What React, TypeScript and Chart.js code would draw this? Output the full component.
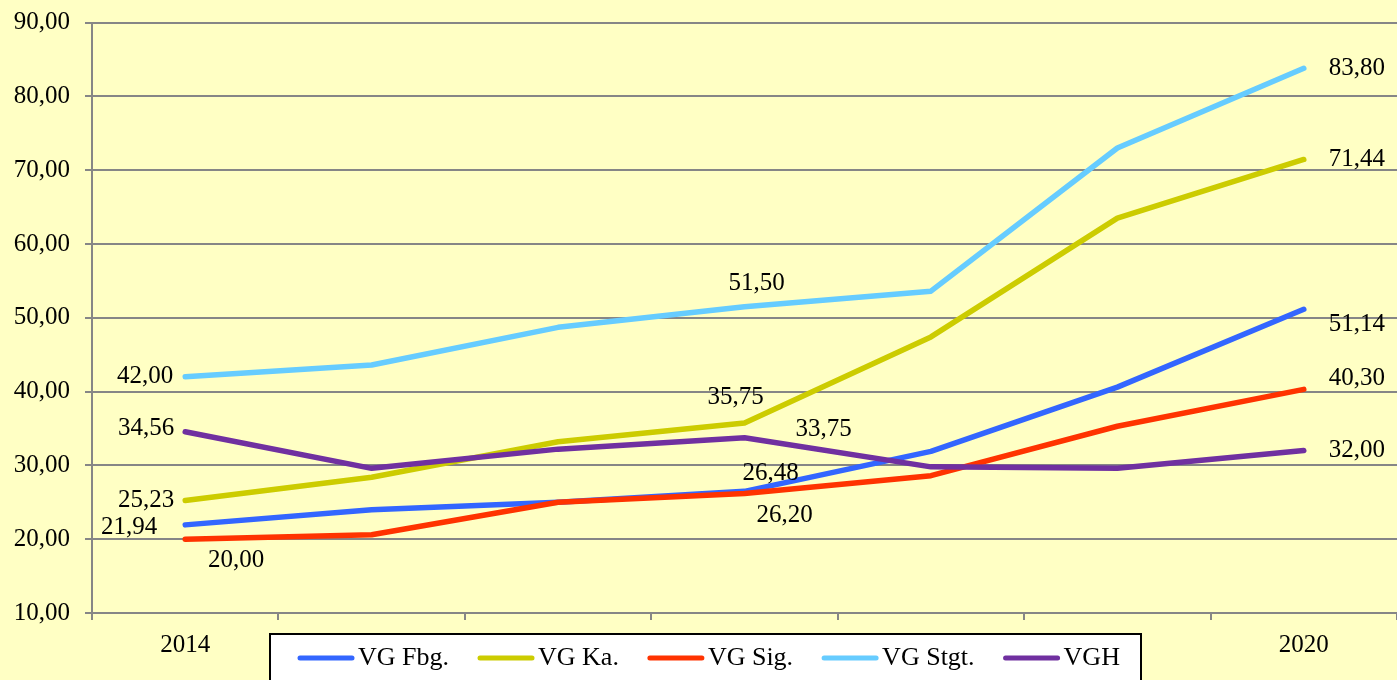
import React, { useEffect, useRef } from "react";
import { Chart, registerables } from "chart.js";

Chart.register(...registerables);

// ---- data ----
const categories = ["2014", "2015", "2016", "2017", "2018", "2019", "2020"];
const seriesNames = ["VG Fbg.", "VG Ka.", "VG Sig.", "VG Stgt.", "VGH"];
const vgFbg = [21.94, 24.0, 25.0, 26.48, 31.9, 40.6, 51.14];
const vgKa = [25.23, 28.4, 33.2, 35.75, 47.4, 63.5, 71.44];
const vgSig = [20.0, 20.6, 25.0, 26.2, 28.6, 35.3, 40.3];
const vgStgt = [42.0, 43.6, 48.7, 51.5, 53.6, 73.0, 83.8];
const vgh = [34.56, 29.6, 32.2, 33.75, 29.8, 29.6, 32.0];
const yMin = 10;
const yMax = 90;
const yStep = 10;

// indices of points that carry a value label
const labeledIndices = [0, 3, 6];

// ---- styles ----
const colors = ["#3366FF", "#CCCC00", "#FF3300", "#66CCFF", "#7030A0"];
const FONT = "'Liberation Serif', 'Times New Roman', serif";
const BG = "#FFFFC4";
const GRID = "#868686";
// label offsets (dx, dy from the point, text centre) per series, per labeled index
const labelOffsets = [
  [[-56, 3], [26, -18], [53, 15]],
  [[-39, 0], [-9, -25], [53, 0]],
  [[51, 21], [40, 22], [53, -11]],
  [[-40, 0], [12, -23], [53, 0]],
  [[-39, -3], [79, -8], [53, 0]],
];

const fmt = (v: number) => v.toFixed(2).replace(".", ",");

const bgPlugin = {
  id: "bg",
  beforeDraw(chart: any) {
    const { ctx, width, height } = chart;
    ctx.save();
    ctx.fillStyle = BG;
    ctx.fillRect(0, 0, width, height);
    ctx.restore();
  },
};

const labelPlugin = {
  id: "valueLabels",
  afterDatasetsDraw(chart: any) {
    const { ctx } = chart;
    ctx.save();
    ctx.font = `25px ${FONT}`;
    ctx.fillStyle = "#000";
    ctx.textAlign = "center";
    ctx.textBaseline = "middle";
    chart.data.datasets.forEach((ds: any, di: number) => {
      const meta = chart.getDatasetMeta(di);
      labeledIndices.forEach((idx, k) => {
        const pt = meta.data[idx];
        if (!pt) return;
        const [dx, dy] = labelOffsets[di][k];
        ctx.fillText(fmt(ds.data[idx]), pt.x + dx, pt.y + dy);
      });
    });
    ctx.restore();
  },
};

const legendPlugin = {
  id: "boxLegend",
  afterDraw(chart: any) {
    const { ctx } = chart;
    const boxL = 270;
    const boxR = 1141;
    const boxT = 634;
    const boxB = 690;
    ctx.save();
    ctx.fillStyle = "#FFFFFF";
    ctx.fillRect(boxL, boxT, boxR - boxL, boxB - boxT);
    ctx.strokeStyle = "#000";
    ctx.lineWidth = 2;
    ctx.strokeRect(boxL, boxT, boxR - boxL, boxB - boxT);
    ctx.font = `26px ${FONT}`;
    ctx.textBaseline = "middle";
    ctx.textAlign = "left";
    const cy = 658;
    let x = boxL + 30;
    chart.data.datasets.forEach((ds: any) => {
      ctx.strokeStyle = ds.borderColor;
      ctx.lineWidth = 5;
      ctx.lineCap = "round";
      ctx.beginPath();
      ctx.moveTo(x, cy);
      ctx.lineTo(x + 52, cy);
      ctx.stroke();
      x += 58;
      ctx.fillStyle = "#000";
      ctx.fillText(ds.label, x, cy);
      x += ctx.measureText(ds.label).width + 31;
    });
    ctx.restore();
  },
};

export default function App() {
  const ref = useRef<HTMLCanvasElement | null>(null);

  useEffect(() => {
    document.body.style.margin = "0";
    const canvas = ref.current;
    if (!canvas) return;
    const seriesData = [vgFbg, vgKa, vgSig, vgStgt, vgh];
    const chart = new Chart(canvas, {
      type: "line",
      data: {
        labels: categories,
        datasets: seriesData.map((d, i) => ({
          label: seriesNames[i],
          data: d,
          borderColor: colors[i],
          backgroundColor: colors[i],
          borderWidth: 5.5,
          borderCapStyle: "round",
          borderJoinStyle: "round",
          pointRadius: 0,
          tension: 0,
          fill: false,
          order: seriesData.length - 1 - i,
        })),
      },
      options: {
        responsive: false,
        animation: false,
        devicePixelRatio: 1,
        events: [],
        layout: { padding: { top: 22, right: 0, left: 0, bottom: 0 } },
        plugins: {
          legend: { display: false },
          tooltip: { enabled: false },
        },
        scales: {
          x: {
            type: "category",
            offset: true,
            afterFit: (s: any) => {
              s.height = 67;
            },
            grid: {
              offset: true,
              drawOnChartArea: false,
              drawTicks: true,
              tickLength: 7,
              color: GRID,
              lineWidth: 2,
            },
            border: { display: true, color: GRID, width: 2 },
            ticks: {
              color: "#000",
              font: { family: FONT, size: 25 },
              padding: 10,
              maxRotation: 0,
              autoSkip: false,
            },
          },
          y: {
            min: yMin,
            max: yMax,
            afterFit: (s: any) => {
              s.width = 92;
            },
            grid: {
              color: GRID,
              lineWidth: 2,
              drawTicks: true,
              tickLength: 7,
            },
            border: { display: true, color: GRID, width: 2 },
            ticks: {
              stepSize: yStep,
              color: "#000",
              font: { family: FONT, size: 25, lineHeight: 0.6 },
              padding: 15,
              callback: (v: any) => fmt(Number(v)),
            },
          },
        },
      },
      plugins: [bgPlugin, labelPlugin, legendPlugin],
    } as any);
    return () => chart.destroy();
  }, []);

  return (
    <canvas
      ref={ref}
      width={1397}
      height={680}
      style={{ display: "block", width: 1397, height: 680 }}
    />
  );
}
